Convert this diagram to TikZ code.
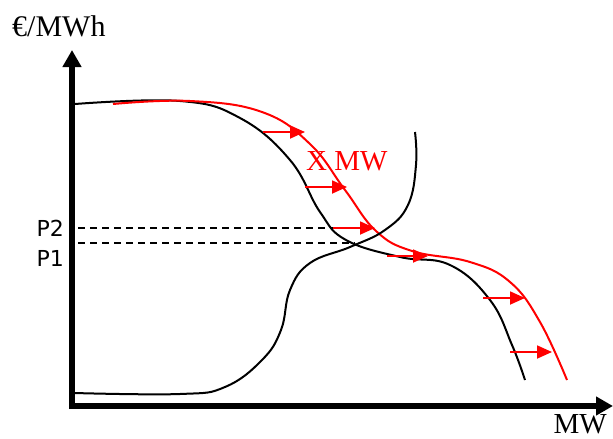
\documentclass[tikz,border=0pt]{standalone}
\usepackage{fontspec}
\setmainfont{Liberation Serif}
\newfontfamily\pfont{DejaVu Sans}
\usetikzlibrary{arrows.meta}

\begin{document}
\begin{tikzpicture}[x=1pt,y=-1pt,
  curve/.style={line width=2pt, line join=round, smooth, tension=0.7},
  shiftarrow/.style={red, line width=1.8pt, -{Triangle[length=15pt,width=13pt]}},
  pricelevel/.style={line width=1.5pt, dash pattern=on 7pt off 5pt},
  biglabel/.style={inner sep=0pt, font=\fontsize{29}{29}\selectfont},
  pricelabel/.style={inner sep=0pt, anchor=base east, font=\pfont\fontsize{22}{22}\selectfont}]
\useasboundingbox (0,0) rectangle (613,439);

% Draw axes
\draw[line width=6pt, -{Triangle[length=17pt,width=18pt]}] (72,409) -- (72,50);
\draw[line width=6pt, -{Triangle[length=17pt,width=18pt]}] (69,406) -- (613,406);

% Label axes
\node[biglabel, anchor=base west, font=\fontsize{30}{30}\selectfont] (ylabel) at (12,36) {€/MWh};
\node[biglabel, anchor=base east] (xlabel) at (607,433) {MW};

% Draw demand curve
\draw[curve] plot coordinates {(75,104) (180,101) (240,118) (290,160)
  (320,212) (346,240) (400,257) (450,265) (490,300) (512,345) (525,380)};

% Draw shifted demand curve
\draw[curve, red] plot coordinates {(113,104) (190,101) (262,112) (310,144)
  (345,190) (376,231) (412,251) (470,262) (510,282) (540,322) (567,380)};

% Draw supply curve
\draw[curve] plot coordinates {(74,393) (180,394) (225,387) (262,360)
  (281,330) (290,290) (310,263) (350,247) (385,230) (408,205) (416,165)
  (415,132)};

% Draw prices
\node[pricelabel] (ptwo) at (64,236) {P2};
\node[pricelabel] (pone) at (64,266) {P1};
\draw[pricelevel] (78,228) -- (335,228);
\draw[pricelevel] (78,243) -- (355,243);

% Draw shift arrows
\foreach \y/\xa/\xb in {132/263/305, 187/305/347, 228/333/375,
                        256/387/428, 298/483/525, 352/510/552}
    \draw[shiftarrow] (\xa,\y) -- (\xb,\y);
\node[biglabel, red, anchor=base west] (shift) at (306,170) {X MW};
\end{tikzpicture}
\end{document}
